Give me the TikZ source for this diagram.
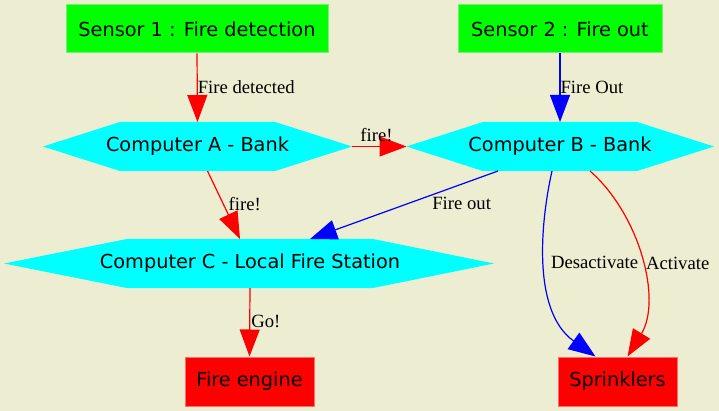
\documentclass[tikz,border=0pt]{standalone}
\usepackage{fontspec}
\setmainfont{Liberation Serif}
\newfontfamily\djv{DejaVu Sans}
\usetikzlibrary{arrows.meta,backgrounds}
\definecolor{bgc}{RGB}{237,237,209}
\definecolor{grb}{RGB}{120,240,120}
\definecolor{rdb}{RGB}{255,110,110}
\definecolor{cyn}{RGB}{0,255,255}
\tikzset{
  sensor/.style={fill=green, draw=grb, line width=1pt, inner sep=0pt, font=\djv\fontsize{19.3}{22}\selectfont},
  target/.style={fill=red, draw=rdb, line width=1pt, inner sep=0pt, font=\djv\fontsize{19.3}{22}\selectfont},
  comp/.style={inner sep=0pt, font=\djv\fontsize{19.3}{22}\selectfont},
  hexfill/.style={fill=cyn},
  edge/.style={line width=1.2pt, -{Triangle[length=27pt,width=20pt]}},
  lbl/.style={font=\fontsize{18.67}{20}\selectfont, inner sep=1pt, text=black},
}
\begin{document}
\begin{tikzpicture}[x=1pt,y=-1pt]
\useasboundingbox (0,0) rectangle (719,411);
\node[sensor, minimum width=262pt, minimum height=48pt] (S1) at (197,29) {Sensor 1 : Fire detection};
\node[sensor, minimum width=204pt, minimum height=48pt] (S2) at (560,29) {Sensor 2 : Fire out};
\node[comp] (A) at (197.5,146.5) {Computer A - Bank};
\node[comp] (B) at (560,146.5) {Computer B - Bank};
\node[comp] (C) at (250,263.5) {Computer C - Local Fire Station};
\node[target, minimum width=129pt, minimum height=49pt] (FE) at (249.5,381.5) {Fire engine};
\node[target, minimum width=119pt, minimum height=49pt] (SP) at (617.5,381.5) {Sprinklers};
% hexagon corner points
\coordinate (Ar) at ([xshift=154.5pt]A.center);
\coordinate (At) at ([yshift=24.5pt]A.center);
\coordinate (Ab) at ([yshift=-24.5pt]A.center);
\coordinate (Bl) at ([xshift=-153.5pt]B.center);
\coordinate (Bt) at ([yshift=24.5pt]B.center);
\coordinate (Bb) at ([yshift=-24.5pt]B.center);
\coordinate (Ct) at ([yshift=24.5pt]C.center);
\coordinate (Cb) at ([yshift=-24.5pt]C.center);
\begin{pgfonlayer}{background}
\fill[bgc] (0,0) rectangle (719,411);
\fill[hexfill] ([xshift=-77.5pt]At) -- ([xshift=77.5pt]At) -- (Ar) -- ([xshift=77.5pt]Ab) -- ([xshift=-77.5pt]Ab) -- ([xshift=-154.5pt]A.center) -- cycle;
\fill[hexfill] ([xshift=-77pt]Bt) -- ([xshift=77pt]Bt) -- ([xshift=154pt]B.center) -- ([xshift=77pt]Bb) -- ([xshift=-77pt]Bb) -- (Bl) -- cycle;
\fill[hexfill] ([xshift=-123pt]Ct) -- ([xshift=123pt]Ct) -- ([xshift=244pt]C.center) -- ([xshift=123pt]Cb) -- ([xshift=-123pt]Cb) -- ([xshift=-246pt]C.center) -- cycle;
\end{pgfonlayer}
\draw[edge, red] (S1.south) -- node[lbl, pos=0.49, anchor=west, xshift=-1pt] {Fire detected} (At);
\draw[edge, blue] (S2.south) -- node[lbl, pos=0.49, anchor=west, xshift=-1pt] {Fire Out} (Bt);
\draw[edge, red] (Ar) -- node[lbl, pos=0.45, anchor=south, yshift=3pt] {fire!} (Bl);
\draw[edge, red] ([xshift=10pt]Ab) -- node[lbl, pos=0.48, anchor=west, xshift=4pt] {fire!} ([xshift=-10pt]Ct);
\draw[edge, blue] ([xshift=-62pt]Bb) -- node[lbl, pos=0.48, anchor=west, xshift=23pt] {Fire out} ([xshift=60pt]Ct);
\draw[edge, red] (Cb) -- node[lbl, pos=0.49, anchor=west, xshift=0pt] {Go!} (FE.north);
\draw[edge, blue] ([xshift=-8pt]Bb) .. controls (542,215) and (530,310) .. node[lbl, pos=0.5, anchor=west, xshift=4pt] {Desactivate} ([xshift=-22pt]SP.north);
\draw[edge, red] ([xshift=30pt]Bb) .. controls (640,215) and (662,300) .. node[lbl, pos=0.5, anchor=west, xshift=4pt, yshift=-4pt] {Activate} ([xshift=10pt]SP.north);
\end{tikzpicture}
\end{document}
